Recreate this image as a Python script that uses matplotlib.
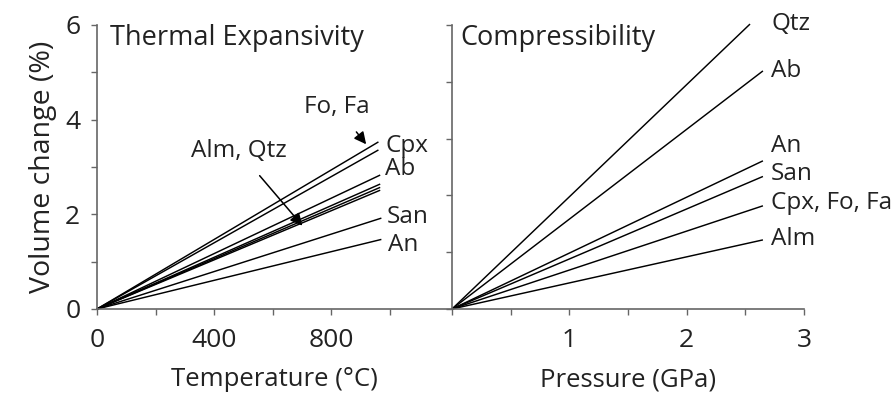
import matplotlib
matplotlib.use("Agg")
import matplotlib.pyplot as plt
import numpy as np

plt.rcParams['font.family'] = ['Open Sans', 'DejaVu Sans']

# ---- Thermal expansivity (left panel): straight lines from origin ----
thermal_names = ["Fo, Fa", "Cpx", "Ab", "Alm", "Qtz", "Alm/Qtz", "San", "An"]
thermal_end_T = [962, 962, 968, 968, 968, 968, 972, 972]        # deg C
thermal_end_V = [3.53, 3.36, 2.83, 2.64, 2.57, 2.51, 1.92, 1.47]  # %

thermal_labels = ["Cpx", "Ab", "San", "An"]
thermal_label_T = [985, 985, 990, 995]
thermal_label_V = [3.44, 2.96, 1.95, 1.36]

# ---- Compressibility (right panel) ----
comp_names = ["Qtz", "Ab", "An", "San", "Cpx, Fo, Fa", "Alm"]
comp_end_P = [2.54, 2.65, 2.65, 2.65, 2.65, 2.65]   # GPa
comp_end_V = [6.02, 5.03, 3.13, 2.80, 2.18, 1.46]   # %
comp_label_V = [6.03, 5.03, 3.45, 2.85, 2.24, 1.48]

FS_TICK = 19
FS_XLAB = 18.5
FS_YLAB = 20.5
FS_TITLE = 19.5
FS_LAB = 17.5
TXT = '#222222'
SPINE = '#666666'

fig = plt.figure(figsize=(8.92, 3.94), dpi=100)
W, H = 892.0, 394.0
y0, y1 = 309.0, 25.0
axL = fig.add_axes([97 / W, (H - y0) / H, (451 - 97) / W, (y0 - y1) / H])
axR = fig.add_axes([452 / W, (H - y0) / H, (804 - 452) / W, (y0 - y1) / H])

for ax in (axL, axR):
    ax.set_ylim(0, 6)
    for s in ('top', 'right'):
        ax.spines[s].set_visible(False)
    for s in ('left', 'bottom'):
        ax.spines[s].set_color(SPINE)
        ax.spines[s].set_linewidth(1.2)
    ax.tick_params(direction='out', length=4, width=1.0, color=SPINE,
                   labelsize=FS_TICK, labelcolor=TXT)
    ax.tick_params(axis='x', pad=10)
    ax.tick_params(axis='y', pad=8)

# Left axes
axL.set_xlim(0, 1210)
axL.set_xticks([0, 200, 400, 600, 800, 1000])
axL.set_xticklabels(["0", "", "400", "", "800", ""])
axL.set_yticks([0, 1, 2, 3, 4, 5, 6])
axL.set_yticklabels(["0", "", "2", "", "4", "", "6"])
axL.set_xlabel("Temperature (°C)", fontsize=FS_XLAB, color=TXT, labelpad=10)
axL.set_ylabel("Volume change (%)", fontsize=FS_YLAB, color=TXT, labelpad=6)

for T, V in zip(thermal_end_T, thermal_end_V):
    axL.plot([0, T], [0, V], color='black', lw=1.05, clip_on=False,
             solid_capstyle='butt')
for lab, T, V in zip(thermal_labels, thermal_label_T, thermal_label_V):
    axL.text(T, V, lab, fontsize=FS_LAB, color=TXT, ha='left', va='center')

axL.text(44, 6.02, "Thermal Expansivity", fontsize=FS_TITLE, color=TXT,
         ha='left', va='top')
axL.annotate("Fo, Fa", xy=(920, 3.48), xytext=(820, 4.26), fontsize=FS_LAB,
             color=TXT, ha='center', va='center',
             arrowprops=dict(arrowstyle='-|>', color='black', lw=1.1,
                             mutation_scale=18, shrinkA=9, shrinkB=0))
axL.annotate("Alm, Qtz", xy=(702, 1.76), xytext=(485, 3.33), fontsize=FS_LAB,
             color=TXT, ha='center', va='center',
             arrowprops=dict(arrowstyle='-|>', color='black', lw=1.1,
                             mutation_scale=18, shrinkA=9, shrinkB=0))

# Right axes
axR.set_xlim(0, 3)
axR.set_xticks([0, 0.5, 1, 1.5, 2, 2.5, 3])
axR.set_xticklabels(["", "", "1", "", "2", "", "3"])
axR.set_yticks([0, 1.2, 2.4, 3.6, 4.8, 6.0])
axR.set_yticklabels([])
axR.set_xlabel("Pressure (GPa)", fontsize=FS_XLAB, color=TXT, labelpad=10)

for P, V in zip(comp_end_P, comp_end_V):
    axR.plot([0, P], [0, V], color='black', lw=1.05, clip_on=False,
             solid_capstyle='butt')
for lab, V in zip(comp_names, comp_label_V):
    axR.text(2.72, V, lab, fontsize=FS_LAB, color=TXT, ha='left', va='center')

axR.text(0.07, 6.02, "Compressibility", fontsize=FS_TITLE, color=TXT,
         ha='left', va='top')

fig.savefig("out.png", dpi=100)
